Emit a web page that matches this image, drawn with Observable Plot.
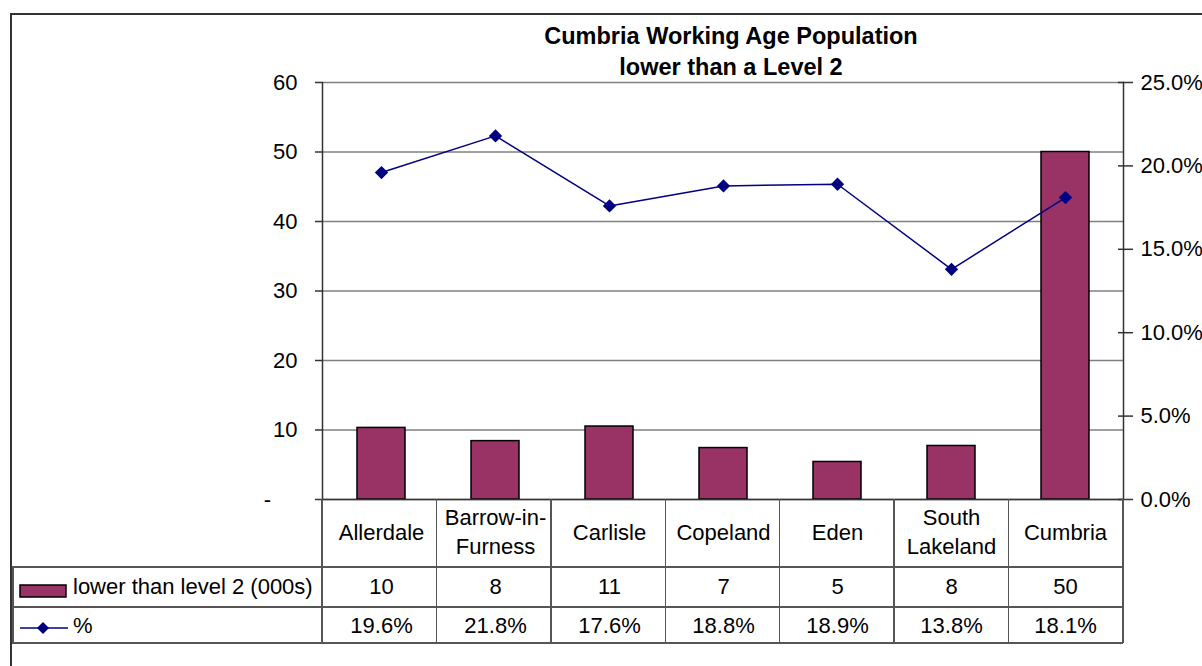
<!DOCTYPE html>
<html><head><meta charset="utf-8">
<script src="https://cdn.jsdelivr.net/npm/d3@7"></script>
<script src="https://cdn.jsdelivr.net/npm/@observablehq/plot@0.6"></script>
<style>
body{margin:0;background:#fff;font-family:"Liberation Sans",Arial,sans-serif;}
#wrap{position:relative;width:1202px;height:666px;overflow:hidden;background:#fff;}
#wrap svg{position:absolute;left:0;top:0;}
.ln{position:absolute;background:#555;}
.title{position:absolute;left:431px;width:600px;text-align:center;font-weight:bold;font-size:23.5px;color:#000;line-height:31px;top:21px;}
.lg{position:absolute;font-size:22px;color:#000;white-space:nowrap;}
</style></head><body><div id="wrap"></div>
<script>
const categories = ["Allerdale","Barrow-in-Furness","Carlisle","Copeland","Eden","South Lakeland","Cumbria"];
const categoryLabels = ["Allerdale","Barrow-in-\nFurness","Carlisle","Copeland","Eden","South\nLakeland","Cumbria"];
const population = [10.3, 8.4, 10.5, 7.4, 5.4, 7.7, 50.0];
const percent = [19.6, 21.8, 17.6, 18.8, 18.9, 13.8, 18.1];
const leftTicks = [0, 10, 20, 30, 40, 50, 60];
const rightTicks = [0, 5, 10, 15, 20, 25];
const seriesNames = ["lower than level 2 (000s)", "%"];
const titleLines = ["Cumbria Working Age Population", "lower than a Level 2"];

const barColor = "#993366", lineColor = "#000080";
const FS = 22;
const yMax = leftTicks[leftTicks.length - 1], pctMax = rightTicks[rightTicks.length - 1];
const toY = p => p / pctMax * yMax;
const data = categories.map((c, i) => ({category: c, label: categoryLabels[i], pop: population[i], pct: percent[i]}));
const labelOf = Object.fromEntries(data.map(d => [d.category, d.label]));

const wrap = document.getElementById("wrap");

const chart = Plot.plot({
  width: 1202, height: 666,
  marginLeft: 322, marginRight: 79, marginTop: 82, marginBottom: 167,
  style: {fontFamily: "Liberation Sans, Arial, sans-serif", fontSize: FS + "px", color: "#000", background: "transparent", overflow: "visible"},
  x: {domain: categories, paddingInner: 0.58, paddingOuter: 0.29, axis: null, label: null},
  y: {domain: [0, yMax], axis: null, label: null},
  marks: [
    Plot.gridY(leftTicks, {stroke: "#808080", strokeOpacity: 1, strokeWidth: 1.3}),
    Plot.axisY(leftTicks, {anchor: "left", label: null, tickSize: 7, tickPadding: 18, stroke: "#333", strokeWidth: 1.5,
      tickFormat: d => d === 0 ? "-\u2003\u2009" : String(d), fontSize: FS, fill: "#000"}),
    Plot.axisY(rightTicks.map(toY), {anchor: "right", label: null, tickSize: 9, tickPadding: 8, stroke: "#333", strokeWidth: 1.5,
      tickFormat: d => (d / yMax * pctMax).toFixed(1) + "%", fontSize: FS, fill: "#000"}),
    Plot.axisY(rightTicks.map(toY), {anchor: "right", label: null, tickSize: 6, dx: -6, stroke: "#333", strokeWidth: 1.5, tickFormat: () => ""}),
    Plot.axisX({anchor: "bottom", label: null, tickSize: 0, tickPadding: 31, lineAnchor: "middle", lineHeight: 1.32,
      tickFormat: c => labelOf[c], fontSize: FS, fill: "#000"}),
    Plot.barY(data, {x: "category", y: "pop", fill: barColor, stroke: "#000", strokeWidth: 1.5}),
    Plot.frame({anchor: "left", stroke: "#333", strokeWidth: 1.5}),
    Plot.frame({anchor: "right", stroke: "#333", strokeWidth: 1.5}),
    Plot.ruleY([0], {stroke: "#333", strokeWidth: 1.5}),
    Plot.line(data, {x: "category", y: d => toY(d.pct), stroke: lineColor, strokeWidth: 1.5}),
    Plot.dot(data, {x: "category", y: d => toY(d.pct), symbol: "diamond2", r: 6, fill: lineColor, stroke: "none"}),
    Plot.text(data, {x: "category", frameAnchor: "bottom", dy: 94, text: d => String(Math.round(d.pop)), fontSize: FS, fill: "#000"}),
    Plot.text(data, {x: "category", frameAnchor: "bottom", dy: 133, text: d => d.pct.toFixed(1) + "%", fontSize: FS, fill: "#000"})
  ]
});
wrap.appendChild(chart);

// title
const t = document.createElement("div");
t.className = "title";
t.innerHTML = titleLines.join("<br>");
wrap.appendChild(t);

function line(x, y, w, h, color) {
  const d = document.createElement("div");
  d.className = "ln";
  d.style.left = x + "px"; d.style.top = y + "px"; d.style.width = w + "px"; d.style.height = h + "px";
  if (color) d.style.background = color;
  wrap.appendChild(d);
}
// outer chart border
line(10, 13, 1300, 1.5, "#333");
line(10, 13, 1.5, 700, "#333");

// data table grid
const xs = chart.scale("x");
const [r0, r1] = xs.range;
const step = (r1 - r0) / categories.length;
const rowTop = 499, row1 = 567, row2 = 607, row3 = 643, tableLeft = 12;
for (let i = 0; i <= categories.length; i++) {
  const x = r0 + i * step;
  line(x - 0.75, rowTop, 1.5, row3 - rowTop);
}
line(tableLeft, row1, 1.5, row3 - row1);
line(tableLeft, row1 - 0.75, r1 - tableLeft, 1.5);
line(tableLeft, row2 - 0.75, r1 - tableLeft, 1.5);
line(tableLeft, row3 - 0.75, r1 - tableLeft, 1.5);

// legend keys in table
const key = document.createElementNS("http://www.w3.org/2000/svg", "svg");
key.setAttribute("width", 80); key.setAttribute("height", 80);
key.style.left = "0px"; key.style.top = "567px"; key.style.position = "absolute";
key.innerHTML = `<rect x="20" y="18" width="46" height="12" fill="${barColor}" stroke="#000" stroke-width="1.5"/>
<line x1="20" x2="68" y1="61" y2="61" stroke="${lineColor}" stroke-width="1.5"/>
<path d="M43,55 L49,61 L43,67 L37,61 Z" fill="${lineColor}"/>`;
wrap.appendChild(key);
seriesNames.forEach((s, i) => {
  const d = document.createElement("div");
  d.className = "lg";
  d.textContent = s;
  d.style.left = "73px";
  d.style.top = (i === 0 ? 575 : 614) + "px";
  d.style.lineHeight = "24px";
  wrap.appendChild(d);
});
</script>
</body></html>
